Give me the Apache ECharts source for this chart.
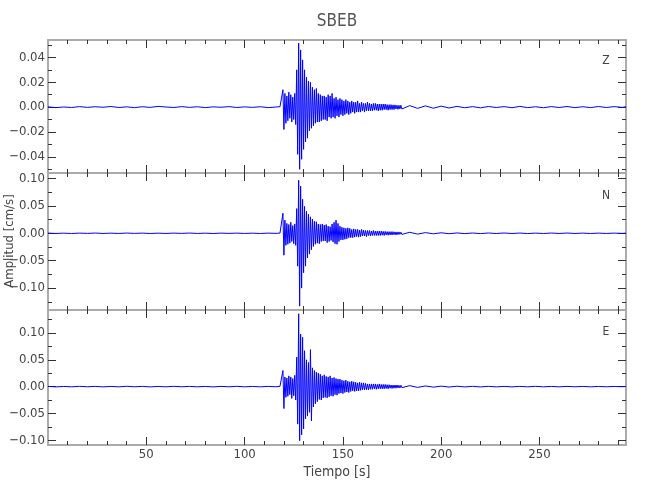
<!DOCTYPE html>
<html>
<head>
<meta charset="utf-8">
<script src="https://cdn.jsdelivr.net/npm/echarts@6/dist/echarts.min.js"></script>
<style>html,body{margin:0;padding:0;background:#fff}#c{width:650px;height:500px}</style>
</head>
<body>
<div id="c"></div>
<script>
// time samples (s)
const timeS = [
 0,4,8,12,16,20,24,28,32,36,40,44,48,52,56,60,64,68,72,76,80,84,88,92,96,100,104,108,112,116,
 118,118.5,119,119.5,120,120.5,121,121.5,122,122.5,123,123.5,124,124.5,125,125.5,126,126.5,127,127.5,128,128.5,129,129.5,130,130.5,131,131.5,132,132.5,133,133.5,134,134.5,135,135.5,136,136.5,137,137.5,138,138.5,139,139.5,140,
 140.5,141,141.5,142,142.5,143,143.5,144,144.5,145,145.5,146,146.5,147,147.5,148,148.5,149,149.5,150,
 150.5,151,151.5,152,152.5,153,153.5,154,154.5,155,155.5,156,156.5,157,157.5,158,158.5,159,159.5,160,
 160.5,161,161.5,162,162.5,163,163.5,164,164.5,165,165.5,166,166.5,167,167.5,168,168.5,169,169.5,170,
 170.5,171,171.5,172,172.5,173,173.5,174,174.5,175,175.5,176,176.5,177,177.5,178,178.5,179,179.5,180,
 184,188,192,196,200,204,208,212,216,220,224,228,232,236,240,244,248,252,256,260,264,268,272,276,280,284,288,292,294
];
// Z component (cm/s)
const zVals = [
 0.0002,-0.0004,0.0001,-0.0003,0.0004,-0.0002,0.0003,-0.0001,0.0005,-0.0003,0.0002,-0.0004,0.0003,-0.0002,0.0006,0.0001,-0.0003,0.0004,-0.0002,0.0003,-0.0004,0.0002,-0.0001,0.0004,-0.0003,0.0002,-0.0002,0.0003,-0.0004,0.0001,
 0.0003,-0.0004,0.0006,0.014,-0.018,0.011,-0.013,0.009,-0.011,0.012,-0.009,0.010,-0.012,0.008,-0.010,0.011,-0.014,0.030,-0.038,0.0515,-0.050,0.046,-0.042,0.038,-0.034,0.030,-0.028,0.024,-0.025,0.021,-0.019,0.020,-0.017,0.016,-0.015,0.014,-0.013,0.015,-0.012,0.011,-0.012,0.010,-0.011,0.009,-0.010,
 0.009,-0.010,0.008,-0.011,0.010,-0.008,0.009,-0.009,0.011,-0.008,0.007,-0.009,0.008,-0.007,0.006,-0.008,0.007,-0.006,0.006,-0.007,
 0.005,-0.006,0.006,-0.005,0.005,-0.006,0.004,-0.005,0.005,-0.004,0.004,-0.005,0.004,-0.004,0.005,-0.004,0.003,-0.004,0.004,-0.003,
 0.003,-0.004,0.003,-0.003,0.004,-0.003,0.003,-0.003,0.0025,-0.003,0.003,-0.0025,0.003,-0.0025,0.0025,-0.003,0.0025,-0.0025,0.0025,-0.0025,
 0.0025,-0.002,0.0025,-0.002,0.002,-0.0025,0.002,-0.002,0.002,-0.002,0.0018,-0.002,0.0018,-0.0015,0.0015,-0.0018,0.0015,-0.0015,0.0015,-0.0015,
 0.0012,-0.001,0.001,-0.0009,0.0008,-0.0007,0.0006,-0.0005,0.0004,-0.0006,0.0005,-0.0003,0.0004,-0.0005,0.0006,-0.0004,0.0003,-0.0005,0.0004,-0.0003,0.0005,-0.0004,0.0003,-0.0004,0.0005,-0.0003,0.0004,-0.0002,0.0003
];
// N component (cm/s)
const nVals = [
 0.0003,-0.0003,0.0002,-0.0004,0.0003,-0.0002,0.0004,-0.0003,0.0002,-0.0003,0.0004,-0.0002,0.0003,-0.0004,0.0002,-0.0003,0.0003,-0.0002,0.0004,-0.0003,0.0002,-0.0004,0.0003,-0.0002,0.0003,-0.0003,0.0002,-0.0004,0.0003,-0.0002,
 0.0004,-0.0005,0.0008,0.0365,-0.040,0.024,-0.022,0.018,-0.020,0.016,-0.018,0.020,-0.015,0.014,-0.019,0.017,-0.022,0.045,-0.060,0.097,-0.133,0.086,-0.100,0.062,-0.072,0.049,-0.060,0.040,-0.045,0.035,-0.038,0.030,-0.030,0.026,-0.024,0.022,-0.020,0.021,-0.018,0.017,-0.019,0.016,-0.015,0.017,-0.014,
 0.015,-0.014,0.016,-0.017,0.013,-0.015,0.012,-0.013,0.017,-0.016,0.020,-0.019,0.024,-0.020,0.018,-0.015,0.013,-0.012,0.011,-0.012,
 0.010,-0.011,0.009,-0.010,0.010,-0.008,0.009,-0.008,0.007,-0.008,0.008,-0.007,0.007,-0.006,0.007,-0.007,0.006,-0.006,0.007,-0.005,
 0.006,-0.005,0.005,-0.006,0.005,-0.004,0.005,-0.005,0.004,-0.004,0.005,-0.004,0.004,-0.004,0.004,-0.004,0.004,-0.004,0.004,-0.0035,
 0.0035,-0.004,0.0035,-0.003,0.003,-0.0035,0.003,-0.003,0.003,-0.003,0.003,-0.0025,0.0025,-0.003,0.0025,-0.0025,0.0025,-0.002,0.002,-0.002,
 0.0018,-0.0015,0.0012,-0.001,0.0009,-0.0008,0.0006,-0.0006,0.0005,-0.0006,0.0005,-0.0004,0.0005,-0.0004,0.0004,-0.0005,0.0003,-0.0004,0.0004,-0.0003,0.0004,-0.0003,0.0003,-0.0004,0.0003,-0.0003,0.0003,-0.0002,0.0002
];
// E component (cm/s)
const eVals = [
 0.0004,-0.0005,0.0003,-0.0004,0.0005,-0.0003,0.0004,-0.0005,0.0003,-0.0004,0.0006,-0.0003,0.0004,-0.0005,0.0003,-0.0004,0.0005,-0.0003,0.0004,-0.0004,0.0003,-0.0005,0.0004,-0.0003,0.0005,-0.0004,0.0003,-0.0004,0.0004,-0.0003,
 0.0005,-0.0006,0.001,0.030,-0.041,0.018,-0.020,0.016,-0.018,0.020,-0.015,0.018,-0.022,0.015,-0.017,0.021,-0.025,0.055,-0.070,0.136,-0.101,0.098,-0.090,0.092,-0.079,0.067,-0.060,0.050,-0.055,0.045,-0.048,0.069,-0.064,0.035,-0.038,0.030,-0.032,0.027,-0.028,0.025,-0.024,0.023,-0.025,0.020,-0.021,
 0.022,-0.020,0.019,-0.021,0.018,-0.019,0.020,-0.017,0.016,-0.018,0.017,-0.015,0.015,-0.016,0.014,-0.013,0.014,-0.012,0.012,-0.013,
 0.011,-0.011,0.012,-0.010,0.010,-0.011,0.009,-0.009,0.010,-0.008,0.009,-0.009,0.008,-0.008,0.007,-0.008,0.008,-0.007,0.007,-0.006,
 0.007,-0.006,0.006,-0.006,0.005,-0.006,0.005,-0.005,0.005,-0.005,0.005,-0.004,0.005,-0.005,0.004,-0.004,0.005,-0.004,0.004,-0.004,
 0.004,-0.004,0.004,-0.0035,0.0035,-0.004,0.0035,-0.003,0.003,-0.0035,0.003,-0.003,0.003,-0.003,0.003,-0.0025,0.0025,-0.0025,0.0025,-0.002,
 0.0018,-0.0015,0.0012,-0.001,0.0009,-0.0008,0.0007,-0.0006,0.0005,-0.0006,0.0005,-0.0005,0.0004,-0.0005,0.0004,-0.0004,0.0005,-0.0004,0.0003,-0.0004,0.0004,-0.0003,0.0003,-0.0004,0.0003,-0.0003,0.0003,-0.0002,0.0002
];
const xMajor = [50,100,150,200,250];
const xMinor = [10,20,30,40,60,70,80,90,110,120,130,140,160,170,180,190,210,220,230,240,260,270,280,290];
const zMajor = [-0.04,-0.02,0,0.02,0.04];
const zMinor = [-0.05,-0.03,-0.01,0.01,0.03,0.05];
const nMajor = [-0.10,-0.05,0,0.05,0.10];
const nMinor = [-0.125,-0.075,-0.025,0.025,0.075];
const eMajor = [-0.10,-0.05,0,0.05,0.10];
const eMinor = [-0.075,-0.025,0.025,0.075,0.125];
const panelNames = ['Z','N','E'];
const titleText = 'SBEB';
const xName = 'Tiempo [s]';
const yName = 'Amplitud [cm/s]';

const FONT = "'Liberation Sans Narrow','DejaVu Sans Condensed','Liberation Sans',sans-serif";
const panels = [
  {vals: zVals, major: zMajor, minor: zMinor, min: -0.053, max: 0.054, top: 40, height: 133},
  {vals: nVals, major: nMajor, minor: nMinor, min: -0.140, max: 0.110, top: 173, height: 137},
  {vals: eVals, major: eMajor, minor: eMinor, min: -0.109, max: 0.143, top: 310, height: 135}
];
const AXC = '#ababab', TKC = '#333';
const grid = [], xAxis = [], yAxis = [], series = [];
const fmt = v => (v < 0 ? '\u2212' : '') + Math.abs(v).toFixed(2);

panels.forEach((p, g) => {
  grid.push({left: 48, right: 24, top: p.top, height: p.height, containLabel: false, outerBoundsMode: 'none'});
  const xBase = {type: 'value', gridIndex: g, min: 0, max: 294, splitLine: {show: false}};
  [['bottom', true], ['bottom', false], ['top', true], ['top', false]].forEach(([pos, major], k) => {
    xAxis.push(Object.assign({}, xBase, {
      position: pos,
      axisLine: {show: major, onZero: false, lineStyle: {color: AXC, width: 2}},
      axisTick: {show: true, inside: true, length: major ? 8 : 4, customValues: major ? xMajor : xMinor, lineStyle: {color: TKC, width: 1}},
      axisLabel: {show: g === 2 && k === 0, customValues: xMajor, margin: 3, color: '#444', fontSize: 13, fontFamily: FONT},
      name: (g === 2 && k === 0) ? xName : '',
      nameLocation: 'middle', nameGap: 20,
      nameTextStyle: {color: '#444', fontSize: 14, fontFamily: FONT}
    }));
  });
  const yBase = {type: 'value', gridIndex: g, min: p.min, max: p.max, splitLine: {show: false}};
  [['left', true], ['left', false], ['right', true], ['right', false]].forEach(([pos, major], k) => {
    yAxis.push(Object.assign({}, yBase, {
      position: pos,
      axisLine: {show: major, onZero: false, lineStyle: {color: AXC, width: 2}},
      axisTick: {show: true, inside: true, length: major ? 8 : 4, customValues: major ? p.major : p.minor, lineStyle: {color: TKC, width: 1}},
      axisLabel: {show: k === 0, customValues: p.major, formatter: fmt, margin: 3, color: '#444', fontSize: 13, fontFamily: FONT}
    }));
  });
  series.push({
    type: 'line', xAxisIndex: g * 4, yAxisIndex: g * 4,
    data: timeS.map((t, i) => [t, p.vals[i]]),
    showSymbol: false, symbol: 'none', clip: true,
    lineStyle: {color: '#0000ff', width: 1}, z: 1
  });
});

const graphic = [
  {type: 'text', x: 337, y: 22, style: {text: titleText, align: 'center', verticalAlign: 'middle', fontSize: 17, fontFamily: FONT, fill: '#555'}},
  {type: 'text', x: 10, y: 241, rotation: Math.PI / 2, style: {text: yName, align: 'center', verticalAlign: 'middle', fontSize: 13, fontFamily: FONT, fill: '#444'}}
];
const letterY = [61, 196, 332];
panelNames.forEach((n, i) => {
  graphic.push({type: 'text', x: 606, y: letterY[i], style: {text: n, align: 'center', verticalAlign: 'middle', fontSize: 12, fontFamily: FONT, fill: '#444'}});
});

const chart = echarts.init(document.getElementById('c'), null, {renderer: 'canvas'});
chart.setOption({animation: false, backgroundColor: '#fff', grid, xAxis, yAxis, series, graphic});
</script>
</body>
</html>
